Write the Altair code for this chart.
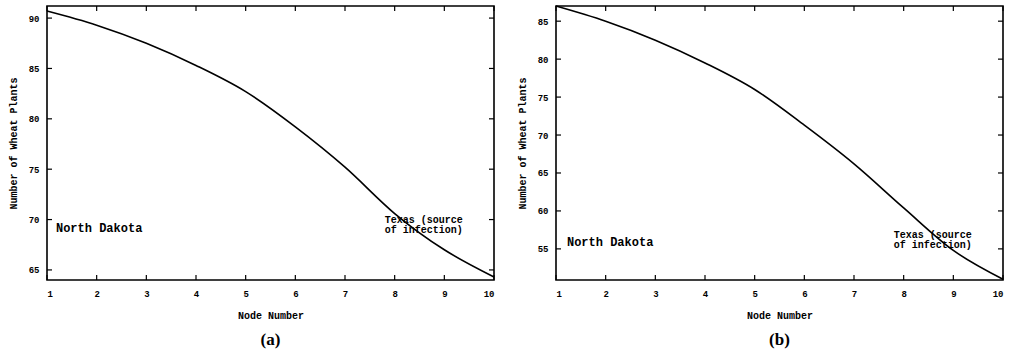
import altair as alt
import pandas as pd

# ---- data ----
nodes = [1, 2, 3, 4, 5, 6, 7, 8, 9, 10]
plants_a = [90.7, 89.3, 87.5, 85.3, 82.7, 79.2, 75.2, 70.6, 67.0, 64.3]
plants_b = [87.0, 85.0, 82.5, 79.5, 76.0, 71.3, 66.2, 60.4, 54.8, 51.0]

x_ticks = [1, 2, 3, 4, 5, 6, 7, 8, 9, 10]
y_ticks_a = [65, 70, 75, 80, 85, 90]
y_ticks_b = [55, 60, 65, 70, 75, 80, 85]
y_domain_a = [64.0, 91.2]
y_domain_b = [50.9, 87.0]

north_txt = "North Dakota"
north_x = [1.18, 1.22]
north_y = [69.2, 55.9]
texas_txt = ["Texas (source", "of infection)"]
texas_x = [7.8, 7.8]
texas_y = [70.5, 57.5]

captions = ["(a)", "(b)"]

W, H = 447, 274
MONO = "Liberation Mono"


def panel(values, y_ticks, y_domain, i):
    df = pd.DataFrame({"node": nodes, "plants": values})
    xs = alt.Scale(domain=[1, 10], nice=False)
    ys = alt.Scale(domain=y_domain, nice=False, zero=False)

    line = alt.Chart(df).mark_line(color="black", strokeWidth=1.6, interpolate="monotone").encode(
        x=alt.X("node:Q", scale=xs, title="Node Number",
                axis=alt.Axis(values=x_ticks, ticks=False, domain=False, grid=False,
                              labelFont=MONO, labelFontSize=9, labelFontWeight="bold",
                              labelPadding=9, labelColor="black",
                              titleFont=MONO, titleFontSize=10, titleFontWeight="bold",
                              titlePadding=12, titleColor="black")),
        y=alt.Y("plants:Q", scale=ys, title="Number of Wheat Plants",
                axis=alt.Axis(values=y_ticks, ticks=False, domain=False, grid=False,
                              labelFont=MONO, labelFontSize=9, labelFontWeight="bold",
                              labelPadding=8, labelColor="black",
                              titleFont=MONO, titleFontSize=10, titleFontWeight="bold",
                              titlePadding=10, titleColor="black")),
    )

    xt = pd.DataFrame({"t": x_ticks})
    yt = pd.DataFrame({"t": y_ticks})
    xbot = alt.Chart(xt).mark_rule(color="black", strokeWidth=1.2).encode(
        x=alt.X("t:Q", scale=xs), y=alt.value(H), y2=alt.value(H - 5))
    xtop = alt.Chart(xt).mark_rule(color="black", strokeWidth=1.2).encode(
        x=alt.X("t:Q", scale=xs), y=alt.value(0), y2=alt.value(5))
    yleft = alt.Chart(yt).mark_rule(color="black", strokeWidth=1.2).encode(
        y=alt.Y("t:Q", scale=ys), x=alt.value(0), x2=alt.value(5))
    yright = alt.Chart(yt).mark_rule(color="black", strokeWidth=1.2).encode(
        y=alt.Y("t:Q", scale=ys), x=alt.value(W), x2=alt.value(W - 5))

    nd = alt.Chart(pd.DataFrame({"txt": [north_txt], "x": [north_x[i]], "y": [north_y[i]]})).mark_text(
        font=MONO, fontSize=12, fontWeight="bold", align="left", baseline="middle", color="black"
    ).encode(x=alt.X("x:Q", scale=xs), y=alt.Y("y:Q", scale=ys), text="txt:N")

    tx = alt.Chart(pd.DataFrame({"x": [texas_x[i]], "y": [texas_y[i]]})).mark_text(
        font=MONO, fontSize=10, fontWeight="bold", align="left", baseline="top",
        lineHeight=10, color="black", text=texas_txt
    ).encode(x=alt.X("x:Q", scale=xs), y=alt.Y("y:Q", scale=ys))

    cap = alt.Chart(pd.DataFrame({"c": [captions[i]]})).mark_text(
        font="Liberation Serif", fontSize=17, fontWeight="bold", color="black",
        align="center", baseline="middle").encode(
        x=alt.value(W / 2), y=alt.value(H + 60), text="c:N")

    return alt.layer(line, xbot, xtop, yleft, yright, nd, tx, cap).properties(width=W, height=H)


pa = panel(plants_a, y_ticks_a, y_domain_a, 0)
pb = panel(plants_b, y_ticks_b, y_domain_b, 1)

chart = alt.hconcat(pa, pb, spacing=18).configure_view(
    stroke="black", strokeWidth=1.6
).properties(
    padding={"left": 7, "top": 2, "right": 0, "bottom": 0},
    background="white",
)

chart.save("out.html", embed_options={"renderer": "svg", "actions": False})
